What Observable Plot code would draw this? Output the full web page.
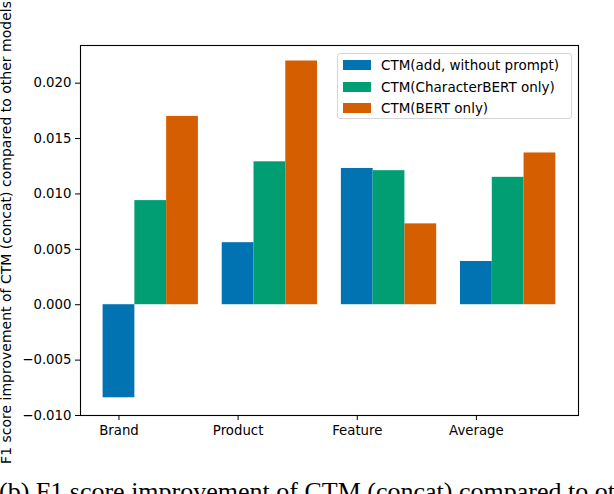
<!DOCTYPE html>
<html>
<head>
<meta charset="utf-8">
<script src="https://cdn.jsdelivr.net/npm/d3@7"></script>
<script src="https://cdn.jsdelivr.net/npm/@observablehq/plot@0.6"></script>
<style>
  html, body { margin: 0; padding: 0; background: #fff; }
  #wrap { position: relative; width: 614px; height: 494px; overflow: hidden; background: #fff; }
  #legend { position: absolute; left: 337px; top: 53px; width: 235px; height: 66px;
    border: 1px solid #d6d6d6; border-radius: 3px; background: rgba(255,255,255,0.8);
    font-family: "DejaVu Sans", sans-serif; font-size: 13.5px; color: #000; box-sizing: border-box; }
  .row { position: absolute; left: 0; height: 14px; white-space: nowrap; }
  .sw { position: absolute; left: 5px; width: 28px; height: 10px; }
  .lt { position: absolute; left: 43px; line-height: 14px; }
  #caption { position: absolute; left: -1px; top: 479px; white-space: nowrap; line-height: 26px;
    font-family: "Liberation Serif", "Times New Roman", serif; font-size: 26px; color: #000; }
</style>
</head>
<body>
<div id="wrap"></div>
<script>
const categories = ["Brand", "Product", "Feature", "Average"];
const seriesNames = ["CTM(add, without prompt)", "CTM(CharacterBERT only)", "CTM(BERT only)"];
const addWithoutPrompt = [-0.0084, 0.0056, 0.0123, 0.0039];
const characterBertOnly = [0.0094, 0.0129, 0.0121, 0.0115];
const bertOnly = [0.0170, 0.0220, 0.0073, 0.0137];
const seriesColors = ["#0173b2", "#029e73", "#d55e00"];
const yTicks = [-0.010, -0.005, 0.000, 0.005, 0.010, 0.015, 0.020];
const yLabel = "F1 score improvement of CTM (concat) compared to other models";
const captionText = "(b) F1 score improvement of CTM (concat) compared to other models";

const seriesValues = [addWithoutPrompt, characterBertOnly, bertOnly];
const barWidth = 0.8 / 3;
const rows = [];
seriesValues.forEach((vals, k) => {
  vals.forEach((v, i) => {
    rows.push({category: categories[i], series: seriesNames[k], idx: i, k, value: v,
      x1: i + k * barWidth - barWidth / 2, x2: i + k * barWidth + barWidth / 2});
  });
});

const chart = Plot.plot({
  width: 614,
  height: 494,
  marginLeft: 80,
  marginRight: 36,
  marginTop: 45,
  marginBottom: 79,
  style: {fontFamily: "DejaVu Sans, sans-serif", fontSize: "13.3px", color: "#000", background: "transparent", overflow: "visible"},
  x: {domain: [-0.323, 3.857]},
  y: {domain: [-0.0100, 0.0234]},
  color: {domain: seriesNames, range: seriesColors},
  marks: [
    Plot.rect(rows, {x1: "x1", x2: "x2", y1: 0, y2: "value", fill: "series"}),
    Plot.frame({stroke: "#000", strokeWidth: 1.1}),
    Plot.axisY({ticks: yTicks, tickFormat: d3.format(".3f"), tickSize: 5, tickPadding: 4, label: null}),
    Plot.text([yLabel], {text: (d) => d, frameAnchor: "left", dx: -74, dy: 2, rotate: -90, fontSize: 14, fill: "#000", textAnchor: "middle", lineAnchor: "middle"}),
    Plot.axisX({ticks: [0, 1, 2, 3], tickFormat: (d) => categories[d], tickSize: 5, tickPadding: 5, label: null})
  ]
});

const wrap = document.getElementById("wrap");
wrap.appendChild(chart);

const legend = d3.select(wrap).append("div").attr("id", "legend");
seriesNames.forEach((name, k) => {
  const row = legend.append("div").attr("class", "row").style("top", (4 + k * 21.5) + "px").style("width", "100%");
  row.append("div").attr("class", "sw").style("background", seriesColors[k]).style("top", "2px");
  row.append("div").attr("class", "lt").text(name);
});

d3.select(wrap).append("div").attr("id", "caption").text(captionText);
</script>
</body>
</html>
